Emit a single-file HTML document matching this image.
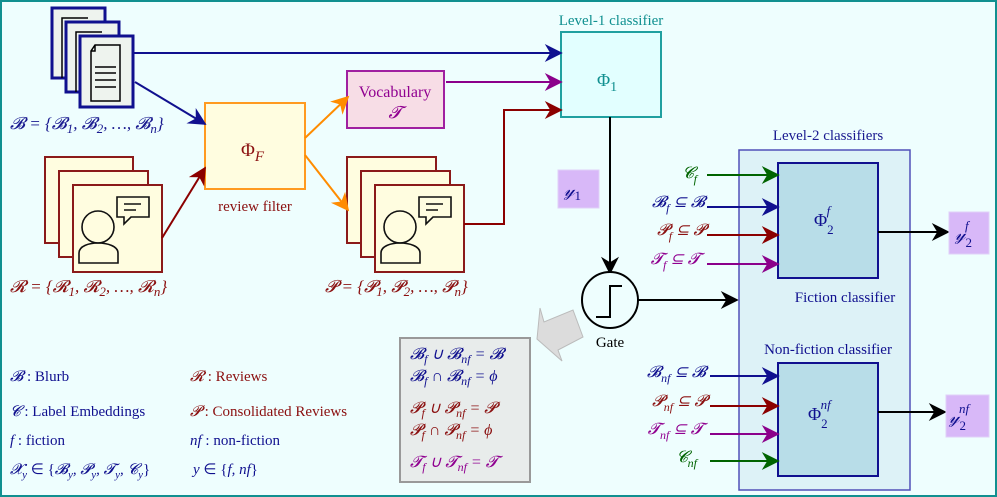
<!DOCTYPE html>
<html><head><meta charset="utf-8"><style>
body{margin:0;background:#fff}
svg{display:block;font-family:"Liberation Serif",serif}
.i{font-style:italic}
</style></head><body>
<svg width="997" height="497" viewBox="0 0 997 497" xmlns="http://www.w3.org/2000/svg">
<defs>
<marker id="mN" viewBox="0 0 10 10" refX="9" refY="5" markerWidth="26" markerHeight="18" orient="auto" markerUnits="userSpaceOnUse"><path d="M0,0 L10,5 L0,10 L3,5z" fill="#10108f"/></marker>
<marker id="mP" viewBox="0 0 10 10" refX="9" refY="5" markerWidth="26" markerHeight="18" orient="auto" markerUnits="userSpaceOnUse"><path d="M0,0 L10,5 L0,10 L3,5z" fill="#8b008b"/></marker>
<marker id="mR" viewBox="0 0 10 10" refX="9" refY="5" markerWidth="26" markerHeight="18" orient="auto" markerUnits="userSpaceOnUse"><path d="M0,0 L10,5 L0,10 L3,5z" fill="#8b0000"/></marker>
<marker id="mO" viewBox="0 0 10 10" refX="9" refY="5" markerWidth="26" markerHeight="18" orient="auto" markerUnits="userSpaceOnUse"><path d="M0,0 L10,5 L0,10 L3,5z" fill="#ff8c00"/></marker>
<marker id="mG" viewBox="0 0 10 10" refX="9" refY="5" markerWidth="26" markerHeight="18" orient="auto" markerUnits="userSpaceOnUse"><path d="M0,0 L10,5 L0,10 L3,5z" fill="#006400"/></marker>
<marker id="mK" viewBox="0 0 10 10" refX="9" refY="5" markerWidth="26" markerHeight="18" orient="auto" markerUnits="userSpaceOnUse"><path d="M0,0 L10,5 L0,10 L3,5z" fill="#000"/></marker>
</defs>
<rect x="1" y="1" width="995" height="495" fill="#eefefe" stroke="#109090" stroke-width="2"/>

<!-- Blurb docs -->
<g stroke="#10108f" stroke-width="3" fill="#eef3ee">
<rect x="52" y="8" width="53" height="70"/>
<path d="M62 78V18h26" fill="none" stroke="#000" stroke-width="1.5"/>
<rect x="66" y="22" width="53" height="70"/>
<path d="M76 92V32h26" fill="none" stroke="#000" stroke-width="1.5"/>
<rect x="80" y="36" width="53" height="71"/>
</g>
<g stroke="#000" stroke-width="1.5" fill="none">
<path d="M95 45h25v56H91V51z M91 51h4v-6"/>
<path d="M95 67h21M95 73h21M95 80h21M95 87h21"/>
</g>
<text x="10" y="129" fill="#1a1a90" font-size="17" class="i">𝓑 = {𝓑<tspan font-size="13" dy="4">1</tspan><tspan dy="-4">, 𝓑</tspan><tspan font-size="13" dy="4">2</tspan><tspan dy="-4">, …, 𝓑</tspan><tspan font-size="13" dy="4">n</tspan><tspan dy="-4">}</tspan></text>

<!-- Reviews -->
<g stroke="#8b1a1a" stroke-width="2" fill="#fffde0">
<rect x="45" y="157" width="88" height="86"/>
<rect x="59" y="171" width="89" height="86"/>
<rect x="73" y="185" width="89" height="87"/>
<rect x="347" y="157" width="89" height="86"/>
<rect x="361" y="171" width="89" height="86"/>
<rect x="375" y="185" width="89" height="87"/>
</g>
<g stroke="#111" stroke-width="1.6" fill="none">
<g id="person"><circle cx="98" cy="227" r="16"/><path d="M79 263v-10c0-7 10-10 19-10s20 3 20 10v10z"/><path d="M117 197h32v20h-18l-7 7v-7h-7z"/><path d="M124 204h17M124 210h12"/></g>
<use href="#person" x="302"/>
</g>
<text x="10" y="292" fill="#8b1010" font-size="17" class="i">𝓡 = {𝓡<tspan font-size="13" dy="4">1</tspan><tspan dy="-4">, 𝓡</tspan><tspan font-size="13" dy="4">2</tspan><tspan dy="-4">, …, 𝓡</tspan><tspan font-size="13" dy="4">n</tspan><tspan dy="-4">}</tspan></text>
<text x="325" y="292" fill="#8b1010" font-size="17" class="i">𝓟 = {𝓟<tspan font-size="13" dy="4">1</tspan><tspan dy="-4">, 𝓟</tspan><tspan font-size="13" dy="4">2</tspan><tspan dy="-4">, …, 𝓟</tspan><tspan font-size="13" dy="4">n</tspan><tspan dy="-4">}</tspan></text>

<!-- Phi_F -->
<rect x="205" y="103" width="100" height="86" fill="#fffde0" stroke="#ff9a20" stroke-width="2"/>
<text x="241" y="156" fill="#8b1010" font-size="19">Φ<tspan class="i" font-size="15" dy="5">F</tspan></text>
<text x="255" y="211" fill="#8b1010" font-size="15" text-anchor="middle">review filter</text>

<!-- Vocabulary -->
<rect x="347" y="71" width="97" height="57" fill="#f7dde6" stroke="#a020a0" stroke-width="2"/>
<text x="395" y="97" fill="#900090" font-size="16" text-anchor="middle">Vocabulary</text>
<text x="395" y="118" fill="#900090" font-size="17" text-anchor="middle" class="i">𝓣</text>

<!-- Level-1 -->
<text x="611" y="25" fill="#109090" font-size="15" text-anchor="middle">Level-1 classifier</text>
<rect x="561" y="32" width="100" height="85" fill="#e2ffff" stroke="#20a0a0" stroke-width="2"/>
<text x="597" y="86" fill="#109090" font-size="18">Φ<tspan font-size="14" dy="5">1</tspan></text>

<g fill="none" stroke-width="2">
<path d="M133 53H561" stroke="#10108f" marker-end="url(#mN)"/>
<path d="M135 82L205 124" stroke="#10108f" marker-end="url(#mN)"/>
<path d="M162 238L205 168" stroke="#8b0000" marker-end="url(#mR)"/>
<path d="M305 138L348 97" stroke="#ff8c00" marker-end="url(#mO)"/>
<path d="M305 155L348 210" stroke="#ff8c00" marker-end="url(#mO)"/>
<path d="M446 82H561" stroke="#8b008b" marker-end="url(#mP)"/>
<path d="M464 224H504V110H561" stroke="#8b0000" marker-end="url(#mR)"/>
<path d="M610 117V273" stroke="#000" marker-end="url(#mK)"/>
<path d="M638 300H737" stroke="#000" marker-end="url(#mK)"/>
</g>

<rect x="558" y="170" width="41" height="38" fill="#d8b8f8" stroke="#e0d0f8"/>
<text x="564" y="196" fill="#10108f" font-size="18" class="i">𝓎<tspan font-style="normal" font-size="13" dy="4">1</tspan></text>

<circle cx="610" cy="300" r="28" fill="#eefefe" stroke="#000" stroke-width="2"/>
<path d="M596 317h14v-31h12" fill="none" stroke="#000" stroke-width="2"/>
<text x="610" y="347" font-size="15" text-anchor="middle">Gate</text>

<polygon points="540,308 544,322 573,310 583,337 558,350 562,361 537,339" fill="#dcdcdc" stroke="#bbb" stroke-width="1"/>

<rect x="400" y="338" width="130" height="144" fill="#e8eceb" stroke="#999" stroke-width="2"/>
<g font-size="16" class="i">
<text x="410" y="359" fill="#10108f">𝓑<tspan font-size="12" dy="4">f</tspan><tspan dy="-4"> ∪ 𝓑</tspan><tspan font-size="12" dy="4">nf</tspan><tspan dy="-4"> = 𝓑</tspan></text>
<text x="410" y="381" fill="#10108f">𝓑<tspan font-size="12" dy="4">f</tspan><tspan dy="-4"> ∩ 𝓑</tspan><tspan font-size="12" dy="4">nf</tspan><tspan dy="-4"> = ϕ</tspan></text>
<text x="410" y="413" fill="#8b1010">𝓟<tspan font-size="12" dy="4">f</tspan><tspan dy="-4"> ∪ 𝓟</tspan><tspan font-size="12" dy="4">nf</tspan><tspan dy="-4"> = 𝓟</tspan></text>
<text x="410" y="435" fill="#8b1010">𝓟<tspan font-size="12" dy="4">f</tspan><tspan dy="-4"> ∩ 𝓟</tspan><tspan font-size="12" dy="4">nf</tspan><tspan dy="-4"> = ϕ</tspan></text>
<text x="410" y="467" fill="#900090">𝓣<tspan font-size="12" dy="4">f</tspan><tspan dy="-4"> ∪ 𝓣</tspan><tspan font-size="12" dy="4">nf</tspan><tspan dy="-4"> = 𝓣</tspan></text>
</g>

<g font-size="15">
<text x="10" y="381" fill="#10108f"><tspan class="i">𝓑</tspan> : Blurb</text>
<text x="190" y="381" fill="#8b1010"><tspan class="i">𝓡</tspan> : Reviews</text>
<text x="10" y="416" fill="#10108f"><tspan class="i">𝓒</tspan> : Label Embeddings</text>
<text x="190" y="416" fill="#8b1010"><tspan class="i">𝓟</tspan> : Consolidated Reviews</text>
<text x="10" y="445" fill="#10108f"><tspan class="i">f</tspan> : fiction</text>
<text x="190" y="445" fill="#10108f"><tspan class="i">nf</tspan> : non-fiction</text>
<text x="10" y="474" fill="#10108f" class="i">𝓧<tspan font-size="11" dy="4">y</tspan><tspan dy="-4" font-style="normal"> ∈ {</tspan>𝓑<tspan font-size="11" dy="4">y</tspan><tspan dy="-4">, 𝓟</tspan><tspan font-size="11" dy="4">y</tspan><tspan dy="-4">, 𝓣</tspan><tspan font-size="11" dy="4">y</tspan><tspan dy="-4">, 𝓒</tspan><tspan font-size="11" dy="4">y</tspan><tspan dy="-4" font-style="normal">}</tspan></text>
<text x="193" y="474" fill="#10108f" class="i">y <tspan font-style="normal">∈ {</tspan>f, nf<tspan font-style="normal">}</tspan></text>
</g>

<text x="828" y="140" fill="#1a1a90" font-size="15" text-anchor="middle">Level-2 classifiers</text>
<rect x="739" y="150" width="171" height="340" fill="#ddf2f7" stroke="#5050b8" stroke-width="1.5"/>
<rect x="778" y="163" width="100" height="115" fill="#b8dde8" stroke="#10108f" stroke-width="2"/>
<text x="814" y="226" fill="#10108f" font-size="18">Φ<tspan font-size="13" dy="8">2</tspan><tspan font-size="13" class="i" dx="-7" dy="-19">f</tspan></text>
<text x="845" y="302" fill="#10108f" font-size="15" text-anchor="middle">Fiction classifier</text>
<text x="828" y="354" fill="#10108f" font-size="15" text-anchor="middle">Non-fiction classifier</text>
<rect x="778" y="363" width="100" height="113" fill="#b8dde8" stroke="#10108f" stroke-width="2"/>
<text x="808" y="420" fill="#10108f" font-size="18">Φ<tspan font-size="13" dy="8">2</tspan><tspan font-size="13" class="i" dx="-7" dy="-19">nf</tspan></text>

<g fill="none" stroke-width="2">
<path d="M707 175H778" stroke="#006400" marker-end="url(#mG)"/>
<path d="M707 207H778" stroke="#10108f" marker-end="url(#mN)"/>
<path d="M707 235H778" stroke="#8b0000" marker-end="url(#mR)"/>
<path d="M707 264H778" stroke="#8b008b" marker-end="url(#mP)"/>
<path d="M710 376H778" stroke="#10108f" marker-end="url(#mN)"/>
<path d="M710 406H778" stroke="#8b0000" marker-end="url(#mR)"/>
<path d="M710 434H778" stroke="#8b008b" marker-end="url(#mP)"/>
<path d="M710 461H778" stroke="#006400" marker-end="url(#mG)"/>
<path d="M878 232H948" stroke="#000" marker-end="url(#mK)"/>
<path d="M878 412H945" stroke="#000" marker-end="url(#mK)"/>
</g>
<g font-size="16" class="i" text-anchor="end">
<text x="697" y="178" fill="#006400">𝓒<tspan font-size="12" dy="5">f</tspan></text>
<text x="705" y="207" fill="#10108f">𝓑<tspan font-size="12" dy="5">f</tspan><tspan dy="-5"> ⊆ 𝓑</tspan></text>
<text x="705" y="235" fill="#8b1010">𝓟<tspan font-size="12" dy="5">f</tspan><tspan dy="-5"> ⊆ 𝓟</tspan></text>
<text x="700" y="264" fill="#900090">𝓣<tspan font-size="12" dy="5">f</tspan><tspan dy="-5"> ⊆ 𝓣</tspan></text>
<text x="706" y="377" fill="#10108f">𝓑<tspan font-size="12" dy="5">nf</tspan><tspan dy="-5"> ⊆ 𝓑</tspan></text>
<text x="706" y="406" fill="#8b1010">𝓟<tspan font-size="12" dy="5">nf</tspan><tspan dy="-5"> ⊆ 𝓟</tspan></text>
<text x="703" y="434" fill="#900090">𝓣<tspan font-size="12" dy="5">nf</tspan><tspan dy="-5"> ⊆ 𝓣</tspan></text>
<text x="697" y="462" fill="#006400">𝓒<tspan font-size="12" dy="5">nf</tspan></text>
</g>
<rect x="949" y="212" width="40" height="42" fill="#d8b8f8" stroke="#e0d0f8"/>
<text x="955" y="240" fill="#10108f" font-size="18" class="i">𝓎<tspan font-style="normal" font-size="13" dy="7">2</tspan><tspan font-size="13" dx="-7" dy="-17">f</tspan></text>
<rect x="946" y="395" width="43" height="42" fill="#d8b8f8" stroke="#e0d0f8"/>
<text x="949" y="423" fill="#10108f" font-size="18" class="i">𝓎<tspan font-style="normal" font-size="13" dy="7">2</tspan><tspan font-size="13" dx="-7" dy="-17">nf</tspan></text>
</svg>
</body></html>
